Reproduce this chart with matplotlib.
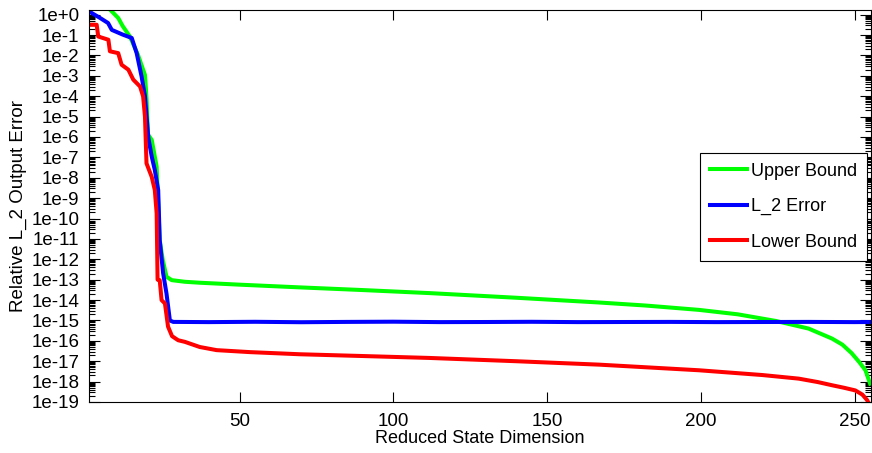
import numpy as np
import matplotlib.pyplot as plt
from matplotlib.ticker import LogLocator, NullFormatter

plt.rcParams['font.family'] = ['Liberation Sans', 'DejaVu Sans']

# --- data ---
x_upper = [1, 7.8, 10.5, 12.0, 14.3, 16.9, 19.2, 19.7, 20.2, 21.4, 23.0, 24.0, 25.0,
           26.2, 27.9, 32.2, 37, 50, 69.5, 90, 111.7, 140, 166.9, 182, 199.4,
           212, 224.3, 235, 242.6, 246, 249, 251.5, 253.5, 255]
upper = [8.0, 1.8, 0.69, 0.27, 8.5e-2, 1.1e-2, 1.1e-3, 8.3e-5, 1.3e-6, 7.2e-7, 3.5e-8,
         8.7e-12, 9.1e-13, 1.4e-13, 9.5e-14, 7.9e-14, 7.1e-14, 5.7e-14, 4.2e-14,
         3.1e-14, 2.2e-14, 1.3e-14, 7.6e-15, 5.4e-15, 3.3e-15, 2.0e-15, 9.5e-16,
         4.0e-16, 1.3e-16, 6.5e-17, 2.5e-17, 9.0e-18, 3.6e-18, 7.9e-19]

x_l2 = [1, 4.6, 7.2, 8.4, 12.0, 14.9, 16.5, 18.1, 19.2, 20.3, 21.4, 22.4, 23.5, 24.0,
        25.1, 26.2, 27.3, 28.4, 40, 55, 70, 85, 100, 115, 130, 145, 160, 175, 190,
        205, 220, 235, 250, 255]
l2 = [1.45, 0.69, 0.39, 0.18, 0.105, 7.2e-2, 1.3e-2, 9.3e-4, 1.0e-4, 9.1e-7, 1.1e-7,
      2.4e-8, 2.5e-9, 8.7e-12, 2.1e-13, 2.1e-14, 1.0e-15, 8.5e-16, 8.3e-16, 8.6e-16,
      8.2e-16, 8.5e-16, 8.7e-16, 8.3e-16, 8.4e-16, 8.6e-16, 8.3e-16, 8.4e-16,
      8.5e-16, 8.3e-16, 8.4e-16, 8.5e-16, 8.3e-16, 8.4e-16]

x_lower = [1, 3.5, 4.0, 7.3, 7.8, 10.5, 11.6, 13.8, 15.4, 17.6, 18.6, 19.2, 19.7, 21.4,
           22.4, 23.0, 23.3, 24.0, 24.6, 25.7, 26.7, 28.0, 30.0, 32.2, 37.0, 42.5,
           53.3, 69.5, 90, 111.7, 140, 166.9, 199.4, 220, 231.8, 238, 242.7, 246.5,
           250.2, 252.5, 254, 255.5]
lower = [0.32, 0.32, 8.5e-2, 5.9e-2, 1.6e-2, 1.3e-2, 3.5e-3, 2.0e-3, 6.5e-4, 3.0e-4,
         9.8e-5, 1.0e-5, 5.1e-8, 1.1e-8, 2.5e-9, 1.8e-10, 1.0e-13, 9.5e-14, 1.0e-14,
         6.8e-15, 5.0e-16, 1.7e-16, 1.07e-16, 8.9e-17, 5.0e-17, 3.5e-17, 2.8e-17,
         2.2e-17, 1.8e-17, 1.45e-17, 1.0e-17, 6.8e-18, 3.6e-18, 2.1e-18, 1.4e-18,
         9.5e-19, 6.6e-19, 5.0e-19, 3.7e-19, 2.3e-19, 1.26e-19, 5e-20]

xticks = [50, 100, 150, 200, 250]
ytick_exp = list(range(0, -20, -1))
ytick_labels = ['1e+0'] + ['1e%d' % e for e in ytick_exp[1:]]

fig = plt.figure(figsize=(8.72, 4.53), dpi=100)
ax = fig.add_axes([89 / 872, 51 / 453, 782 / 872, 392 / 453])

ax.plot(x_upper, upper, color='#00ff00', lw=2.9, label='Upper Bound')
ax.plot(x_l2, l2, color='#0000ff', lw=2.9, label='L_2 Error')
ax.plot(x_lower, lower, color='#ff0000', lw=2.9, label='Lower Bound')

ax.set_yscale('log')
ax.set_xlim(1, 255.3)
ax.set_ylim(1e-19, 10 ** 0.23)

ax.set_xticks(xticks)
ax.set_yticks([10.0 ** e for e in ytick_exp])
ax.set_yticklabels(ytick_labels)
ax.yaxis.set_minor_locator(LogLocator(base=10, subs=np.arange(2, 10), numticks=100))
ax.yaxis.set_minor_formatter(NullFormatter())

ax.tick_params(axis='both', which='both', direction='in', top=True, right=True,
               labelsize=13.5, width=0.8)
ax.tick_params(axis='y', which='major', length=8, pad=7)
ax.tick_params(axis='y', which='minor', length=4)
ax.tick_params(axis='x', which='major', length=7, pad=8)

for s in ax.spines.values():
    s.set_linewidth(0.8)

ax.set_xlabel('Reduced State Dimension', fontsize=13, labelpad=0)
ax.set_ylabel('Relative L_2 Output Error', fontsize=13.5, labelpad=3)

leg = ax.legend(loc='upper right', bbox_to_anchor=(0.995, 0.636), borderaxespad=0,
                fontsize=13, fancybox=False, framealpha=1, edgecolor='black',
                handlelength=2.0, labelspacing=1.02, borderpad=0.55, handletextpad=0.25)
leg.get_frame().set_linewidth(0.8)

fig.savefig('out.png', dpi=100)
